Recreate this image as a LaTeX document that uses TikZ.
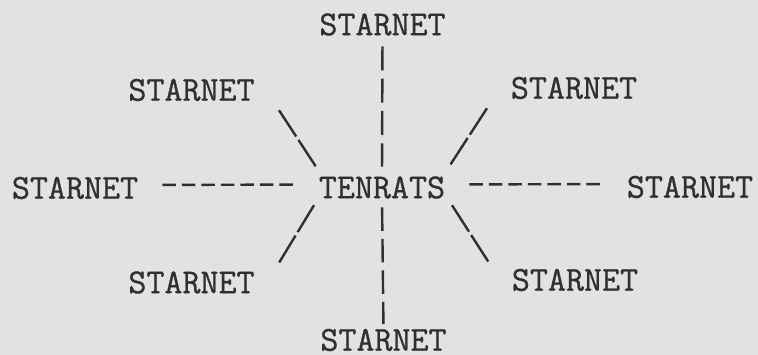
\documentclass[tikz,border=0pt]{standalone}
\usepackage{fontspec}
\newfontfamily\typew{Latin Modern Mono}[FakeBold=0.8]
\usetikzlibrary{calc}
\definecolor{paper}{HTML}{E2E2E2}
\definecolor{ink}{HTML}{303030}
\tikzset{
  word/.style={text=ink, inner sep=0pt, text height=21.4pt, text depth=0pt,
    font=\typew\fontsize{35}{35}\selectfont},
  link/.style={draw=ink, line width=2.4pt},
  vlink/.style={link, dash pattern=on 24pt off 8.3pt},
  hlink/.style={link, dash pattern=on 13.5pt off 6pt, shorten <=24pt, shorten >=24pt},
  dlink/.style={link, dash pattern=on 31.5pt off 4pt}
}
\begin{document}
\begin{tikzpicture}[x=1pt,y=-1pt]
\fill[paper] (0,0) rectangle (758,355);
\useasboundingbox (0,0) rectangle (758,355);
\node[word] (T)  at (382,187.5) {TENRATS};
\node[word] (TS) at (382.5,24.5) {STARNET};
\node[word] (TL) at (191.5,90) {STARNET};
\node[word] (TR) at (574,88) {STARNET};
\node[word] (L)  at (75,188) {STARNET};
\node[word] (R)  at (690,187) {STARNET};
\node[word] (BL) at (191.5,282.5) {STARNET};
\node[word] (BR) at (575,280) {STARNET};
\node[word] (BS) at (383.5,340) {STARNET};
% vertical
\draw[vlink, shorten <=11pt, shorten >=10pt] (TS.south) -- (T.north);
\draw[vlink, dash pattern=on 23.5pt off 8pt, shorten <=9pt, shorten >=5pt] (T.south) -- (BS.north);
% horizontal
\draw[hlink] ([yshift=3pt]L.east) -- ([yshift=3pt]T.west);
\draw[hlink] ([yshift=3pt]T.east) -- ([yshift=3pt]R.west);
% diagonals
\draw[dlink] ($(TL.south east)+(24.2,9.3)$) -- ($(T.north west)+(-2.7,-9.8)$);
\draw[dlink] ($(TR.south west)+(-23.7,9.3)$) -- ($(T.north east)+(3.7,-9.8)$);
\draw[dlink] ($(T.south west)+(-4.7,6.8)$) -- ($(BL.north east)+(24.2,-8.8)$);
\draw[dlink] ($(T.south east)+(6.7,6.8)$) -- ($(BR.north west)+(-22.7,-6.3)$);
\end{tikzpicture}
\end{document}
